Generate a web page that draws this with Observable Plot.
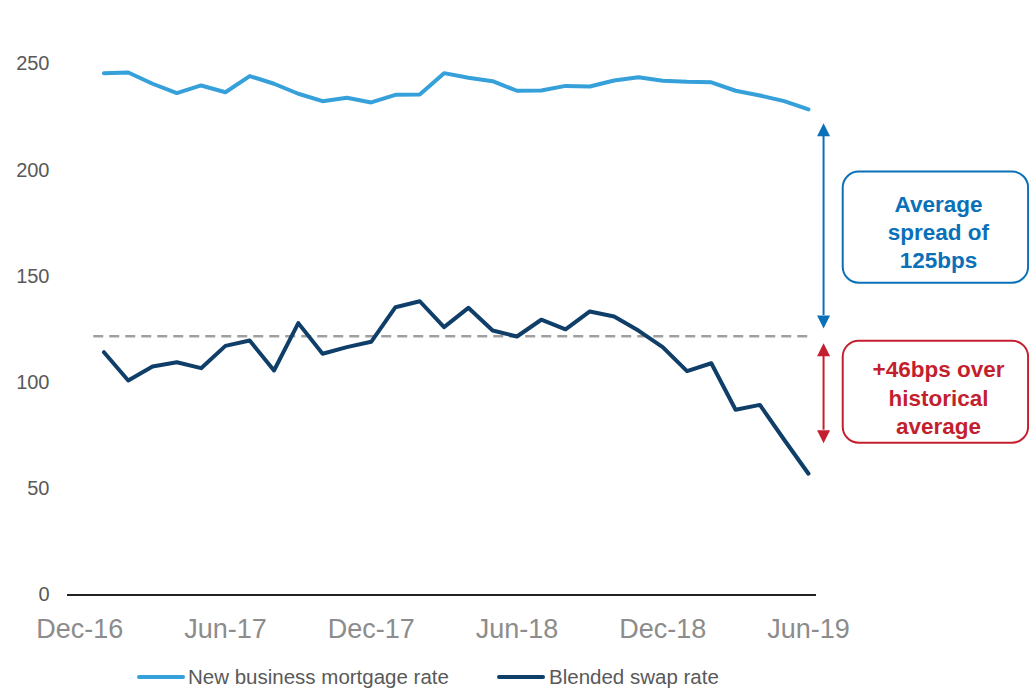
<!DOCTYPE html>
<html>
<head>
<meta charset="utf-8">
<script src="https://cdn.jsdelivr.net/npm/d3@7"></script>
<script src="https://cdn.jsdelivr.net/npm/@observablehq/plot@0.6"></script>
<style>
  body { margin: 0; background: #fff; font-family: "Liberation Sans", Arial, sans-serif; }
  #chart svg { display: block; }
  #chart g[aria-label^="x-axis"] text { font-size: 27px; fill: #8c8c8c; }
  #chart g[aria-label^="y-axis"] text { font-size: 20px; fill: #595959; }
  #legend { position: relative; height: 33px; width: 1029px; }
  #legend .sw { position: absolute; height: 4px; top: 20px; border-radius: 2px; }
  #legend .lb { position: absolute; top: 11.5px; font-size: 20.5px; line-height: 1; color: #595959; white-space: nowrap; }
</style>
</head>
<body>
<div id="chart"></div>
<div id="legend"></div>
<script>
// ---- data ----
const periods = ["Dec-16","Jan-17","Feb-17","Mar-17","Apr-17","May-17","Jun-17","Jul-17","Aug-17","Sep-17","Oct-17","Nov-17","Dec-17",
  "Jan-18","Feb-18","Mar-18","Apr-18","May-18","Jun-18","Jul-18","Aug-18","Sep-18","Oct-18","Nov-18","Dec-18",
  "Jan-19","Feb-19","Mar-19","Apr-19","May-19","Jun-19"];
const tickLabels = ["Dec-16","Jun-17","Dec-17","Jun-18","Dec-18","Jun-19"];
const yTicks = [0, 50, 100, 150, 200, 250];
// values for Jan-17 .. Jun-19 (bps)
const mortgageRate = [245.7,246.0,240.7,236.3,239.9,236.7,244.3,240.7,236.0,232.5,234.1,231.9,
  235.5,235.6,245.7,243.5,241.9,237.4,237.5,239.7,239.4,242.2,243.8,242.1,
  241.6,241.4,237.4,235.2,232.5,228.6];
const swapRate = [114.3,101.0,107.6,109.6,106.8,117.3,119.8,105.7,128.0,113.6,116.7,119.2,
  135.5,138.3,126.1,135.2,124.5,121.7,129.6,125.1,133.5,131.1,124.5,116.7,
  105.4,109.1,87.2,89.5,73.1,57.1];
const historicalAverage = 121.8;
const seriesNames = ["New business mortgage rate", "Blended swap rate"];
const spreadText = ["Average", "spread of", "125bps"];
const overText = ["+46bps over", "historical", "average"];

// ---- styles ----
const lightBlue = "#36a0da";
const navy = "#0f3e68";
const annBlue = "#0a70b8";
const annRed = "#c41f2e";

const rows = mortgageRate.map((m, i) => ({idx: i + 1, period: periods[i + 1], mortgage: m, swap: swapRate[i]}));

// annotation geometry (in scale units)
const arrowX = 30.62;
const boxX1 = 31.43, boxX2 = 39.06, textX = 35.35;
const blueArrow = {top: 222.1, bottom: 125.5};
const redArrow = {top: 118.55, bottom: 71.5};
const head = 6.1; // arrowhead height in units

const triUp = {draw(ctx) { ctx.moveTo(0, 0); ctx.lineTo(6.5, 13); ctx.lineTo(-6.5, 13); ctx.closePath(); }};
const triDown = {draw(ctx) { ctx.moveTo(0, 0); ctx.lineTo(6.5, -13); ctx.lineTo(-6.5, -13); ctx.closePath(); }};

const spreadLines = spreadText.map((t, i) => ({t, y: [183.6, 170.3, 157.3][i]}));
const overLines = overText.map((t, i) => ({t, y: [105.8, 92.6, 79.4][i]}));

const chart = Plot.plot({
  width: 1029,
  height: 655,
  marginLeft: 67,
  marginRight: 213,
  marginTop: 63.5,
  marginBottom: 60.5,
  style: {fontFamily: "'Liberation Sans', Arial, sans-serif", fontSize: "20px", color: "#595959", background: "white", overflow: "visible"},
  x: {type: "linear", domain: [-0.5, 30.33], ticks: tickLabels.map(l => periods.indexOf(l)), tickFormat: i => periods[i], tickSize: 0, tickPadding: 24, label: null},
  y: {domain: [0, 250], ticks: yTicks, tickSize: 0, tickPadding: 18, label: null},
  marks: [
    Plot.ruleY([0], {stroke: "#222", strokeWidth: 2}),
    Plot.ruleY([historicalAverage], {x1: 0.58, x2: 30.08, stroke: "#a0a0a0", strokeWidth: 2.5, strokeDasharray: "10,6"}),
    Plot.line(rows, {x: "idx", y: "mortgage", stroke: lightBlue, strokeWidth: 4, strokeLinejoin: "round", strokeLinecap: "round"}),
    Plot.line(rows, {x: "idx", y: "swap", stroke: navy, strokeWidth: 4, strokeLinejoin: "round", strokeLinecap: "round"}),
    // blue double arrow
    Plot.ruleX([blueArrow], {x: arrowX, y1: d => d.top - head, y2: d => d.bottom + head, stroke: annBlue, strokeWidth: 2}),
    Plot.dot([blueArrow], {x: arrowX, y: "top", symbol: triUp, fill: annBlue, stroke: "none"}),
    Plot.dot([blueArrow], {x: arrowX, y: "bottom", symbol: triDown, fill: annBlue, stroke: "none"}),
    // red double arrow
    Plot.ruleX([redArrow], {x: arrowX, y1: d => d.top - head, y2: d => d.bottom + head, stroke: annRed, strokeWidth: 2}),
    Plot.dot([redArrow], {x: arrowX, y: "top", symbol: triUp, fill: annRed, stroke: "none"}),
    Plot.dot([redArrow], {x: arrowX, y: "bottom", symbol: triDown, fill: annRed, stroke: "none"}),
    // boxes
    Plot.rect([{y1: 146.8, y2: 199.1}], {x1: boxX1, x2: boxX2, y1: "y1", y2: "y2", rx: 16, fill: "white", stroke: annBlue, strokeWidth: 2}),
    Plot.rect([{y1: 71.5, y2: 119.5}], {x1: boxX1, x2: boxX2, y1: "y1", y2: "y2", rx: 16, fill: "white", stroke: annRed, strokeWidth: 2}),
    Plot.text(spreadLines, {x: textX, y: "y", text: "t", fill: annBlue, fontSize: 22.5, fontWeight: "bold", textAnchor: "middle"}),
    Plot.text(overLines, {x: textX, y: "y", text: "t", fill: annRed, fontSize: 22.5, fontWeight: "bold", textAnchor: "middle"})
  ]
});
document.getElementById("chart").appendChild(chart);

// legend
const legend = document.getElementById("legend");
const legendItems = [
  {name: seriesNames[0], color: lightBlue, sw: [137, 48], tx: 188},
  {name: seriesNames[1], color: navy, sw: [497, 48], tx: 549}
];
for (const it of legendItems) {
  const s = document.createElement("div");
  s.className = "sw"; s.style.left = it.sw[0] + "px"; s.style.width = it.sw[1] + "px"; s.style.background = it.color;
  legend.appendChild(s);
  const t = document.createElement("span");
  t.className = "lb"; t.style.left = it.tx + "px"; t.textContent = it.name;
  legend.appendChild(t);
}
</script>
</body>
</html>
